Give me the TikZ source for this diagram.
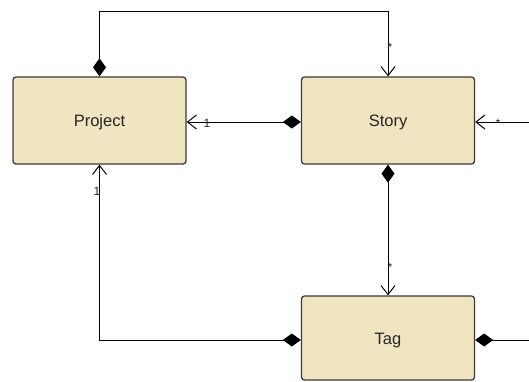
\documentclass[tikz,border=0pt]{standalone}
\usepackage{fontspec}
\setmainfont{Liberation Sans}
\usetikzlibrary{arrows.meta}
\definecolor{classfill}{HTML}{EFE6C1}
\definecolor{classedge}{HTML}{3A3A3A}

\begin{document}
\begin{tikzpicture}[x=1pt, y=-1pt, line width=1pt,
  >={Straight Barb[length=9pt,width=14pt]},
  every class/.style={draw=classedge, line width=1.3pt, fill=classfill, rounded corners=3pt,
    minimum width=173pt, minimum height=87pt, font=\fontsize{16.5}{20}\selectfont, text=black!85,
    text height=12pt, text depth=0pt},
  comp/.style={{Diamond[length=18pt,width=13pt]}->},
  mult/.style={font=\fontsize{12}{13}\selectfont, inner sep=0pt, text=black!85}]

\useasboundingbox (0,0) rectangle (529,381);

% klassit
\foreach \n/\x/\y in {Project/99.5/120.5, Story/388/120.5}
  \node [every class] (\n) at (\x,\y) {\n};
\node [every class, minimum height=84pt] (Tag) at (388,338) {Tag};

% reunan ulkopuoliset päät
\coordinate (topleft) at (99.5,11);
\coordinate (topright) at (388,11);
\coordinate (storyin) at (529,122);
\coordinate (tagout) at (529,340);
\coordinate (bottomleft) at (99.5,340);

% koostumukset
\draw [comp] (Project.north) -- (topleft) -- (topright) -- (Story.north);
\draw [comp] (Story.west |- 0,122) -- (Project.east |- 0,122);
\draw [->] (storyin) -- (Story.east |- storyin);
\draw [comp] (Story.south) -- (Tag.north);
\draw [comp] (Tag.west |- bottomleft) -- (bottomleft) -- (Project.south);
\draw [{Diamond[length=18pt,width=13pt]}-] (Tag.east |- tagout) -- (tagout);

% kertoimet
\node [mult] (m-top) at (390,47) {*};
\node [mult] (m-ps) at (207,123) {1};
\node [mult] (m-right) at (498,123) {*};
\node [mult] (m-st) at (390,267) {*};
\node [mult] (m-pb) at (97,191) {1};

\end{tikzpicture}
\end{document}
